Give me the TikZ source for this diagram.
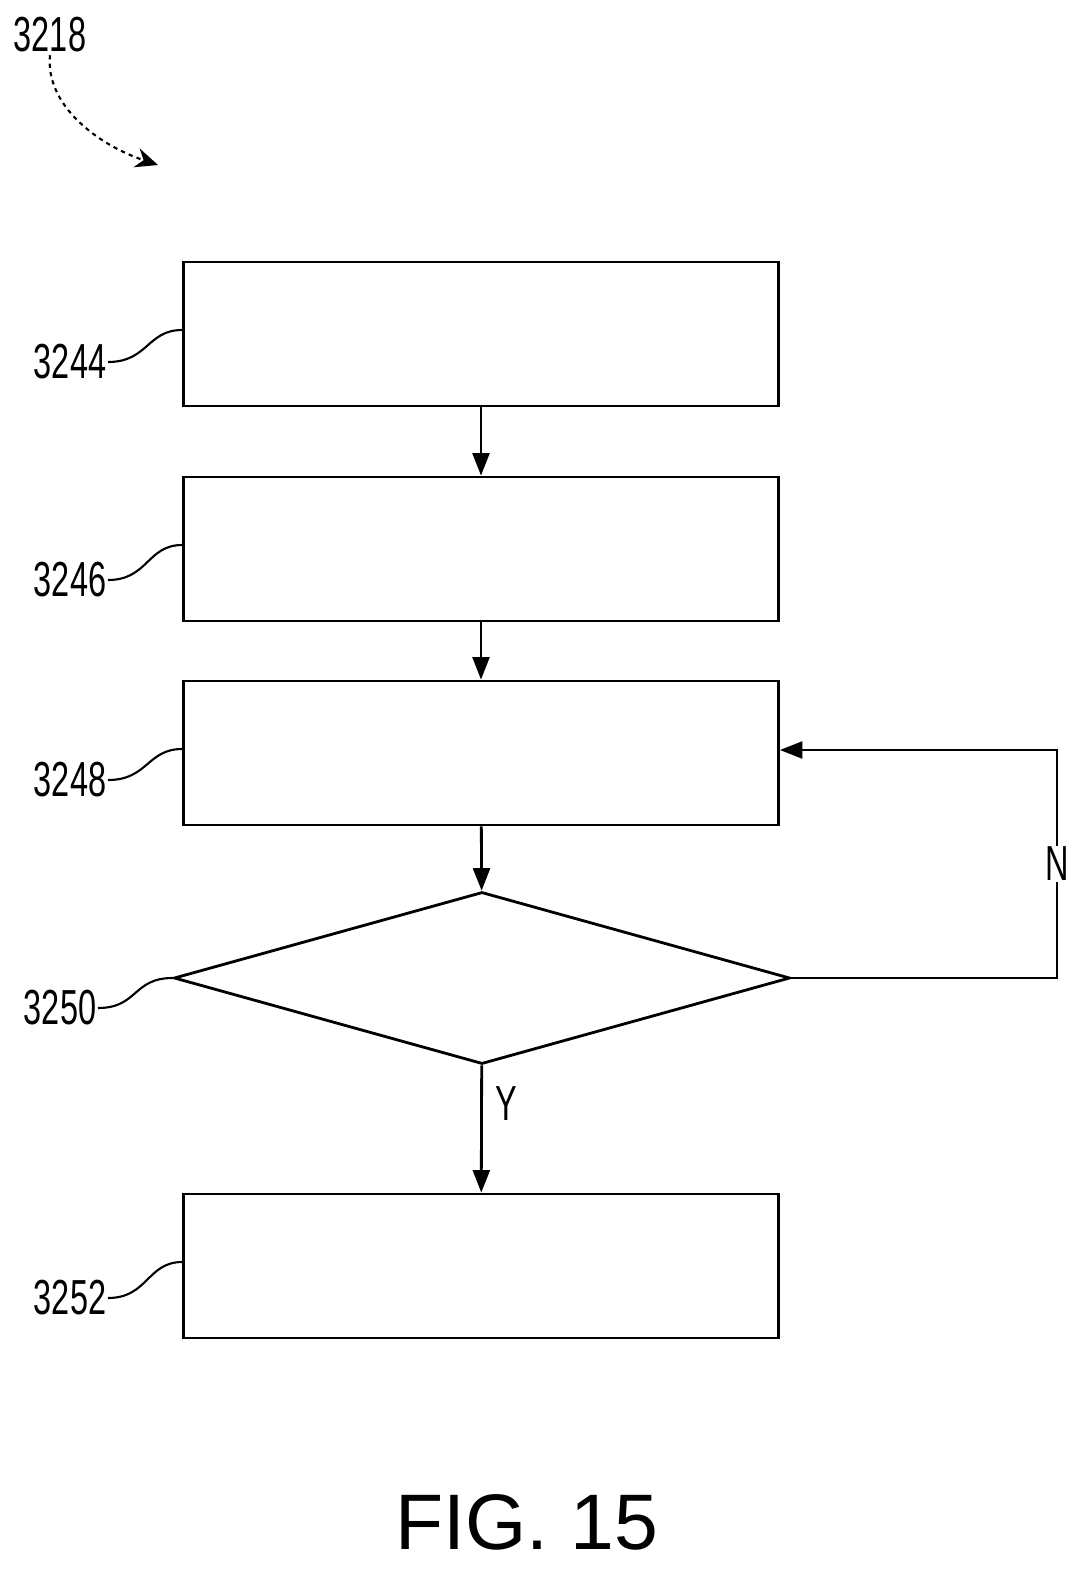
\documentclass[tikz,border=0pt]{standalone}
\usepackage{fontspec}
\setmainfont{Liberation Sans}
\usetikzlibrary{shapes.geometric,arrows.meta,positioning}
\begin{document}
\begin{tikzpicture}[x=0.025cm,y=-0.025cm,line width=2pt,
  box/.style={draw,minimum width=595*0.025cm,minimum height=144*0.025cm},
  decide/.style={draw,diamond,aspect=3.58,minimum width=616*0.025cm,minimum height=172*0.025cm,inner sep=0pt},
  ref/.style={font=\fontsize{35}{35}\selectfont,xscale=0.66,inner sep=1pt},
  flow/.style={-{Triangle[length=16pt,width=12pt]}}]
\useasboundingbox (0,0) rectangle (1090,1572);
% boxes
\node[box] (b44) at (481,334) {};
\node[box] (b46) at (481,549) {};
\node[box] (b48) at (481,753) {};
\node[decide] (d50) at (482,978) {};
\node[box] (b52) at (481,1266) {};
% reference numerals
\node[ref,anchor=east] (l44) at (108,362) {3244};
\node[ref,anchor=east] (l46) at (108,580) {3246};
\node[ref,anchor=east] (l48) at (108,780) {3248};
\node[ref,anchor=east] (l50) at (98,1008) {3250};
\node[ref,anchor=east] (l52) at (108,1298) {3252};
\node[ref] (l18) at (50,35) {3218};
\coordinate (a18) at (158,165);
% leaders
\foreach \l/\b in {l44/b44,l46/b46,l48/b48,l52/b52}
  \draw[line width=1.5pt] (\l.east) .. controls +(40,0) and +(-35,0) .. ([yshift=0.1cm]\b.west);
\draw[line width=1.5pt] (l50.east) .. controls +(40,0) and +(-40,0) .. (d50.west);
\draw[line width=1.5pt,dashed,-{Stealth[length=16pt,width=14pt]}] (l18.south) .. controls +(-5,50) and +(-60,-20) .. (a18);
% connectors
\draw[flow] (b44) -- (b46);
\draw[flow] (b46) -- (b48);
\draw[flow] (b48) -- (d50);
\draw[flow] (d50) -- node[pos=0.3,right=0.3cm,ref] {Y} (b52);
\coordinate (n1) at (1057,978);
\coordinate (n2) at (1057,750);
\draw[flow] (d50.east) -- (n1) -- node[pos=0.5,fill=white,ref] {N} (n2) -- (b48.east |- n2);
\node[font=\fontsize{56}{56}\selectfont] (fig) at (527,1522) {FIG. 15};
\end{tikzpicture}
\end{document}
